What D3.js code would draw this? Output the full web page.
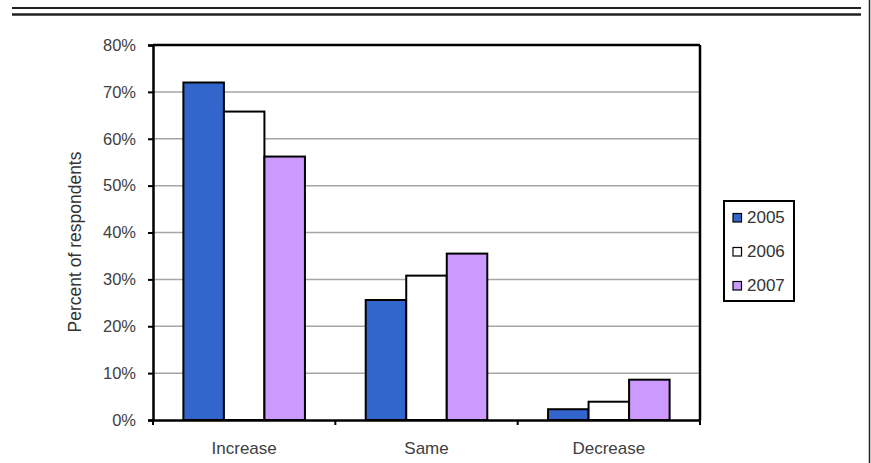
<!DOCTYPE html>
<html>
<head>
<meta charset="utf-8">
<script src="https://cdn.jsdelivr.net/npm/d3@7"></script>
<style>
  html, body { margin: 0; padding: 0; background: #fff; }
  svg { display: block; font-family: "Liberation Sans", Arial, sans-serif; }
</style>
</head>
<body>
<svg id="chart" width="871" height="463"></svg>
<script>
const categories = ["Increase", "Same", "Decrease"];
const seriesNames = ["2005", "2006", "2007"];
const values2005 = [72, 25.6, 2.3];
const values2006 = [65.8, 30.8, 3.9];
const values2007 = [56.2, 35.5, 8.6];
const yTicks = [0, 10, 20, 30, 40, 50, 60, 70, 80];
const seriesColors = ["#3366cc", "#ffffff", "#cc99ff"];

const series = [values2005, values2006, values2007];

const svg = d3.select("#chart");
const plotLeft = 153, plotRight = 700, plotTop = 45, plotBottom = 420;

// decorative page lines
svg.append("line").attr("x1", 12).attr("x2", 861).attr("y1", 8).attr("y2", 8)
  .attr("stroke", "#222").attr("stroke-width", 2);
svg.append("line").attr("x1", 12).attr("x2", 861).attr("y1", 14.5).attr("y2", 14.5)
  .attr("stroke", "#222").attr("stroke-width", 2.5);
svg.append("line").attr("x1", 869.5).attr("x2", 869.5).attr("y1", 0).attr("y2", 463)
  .attr("stroke", "#222").attr("stroke-width", 1.5);

const x0 = d3.scaleBand().domain(categories).range([plotLeft, plotRight]).paddingInner(0).paddingOuter(0);
const x1 = d3.scaleBand().domain(seriesNames).range([0, x0.bandwidth()]).paddingInner(0).paddingOuter(0.75);
const y = d3.scaleLinear().domain([0, 80]).range([plotBottom, plotTop]);

// gridlines
svg.append("g").selectAll("line").data(yTicks.filter(t => t > 0 && t < 80)).join("line")
  .attr("x1", plotLeft).attr("x2", plotRight)
  .attr("y1", d => y(d)).attr("y2", d => y(d))
  .attr("stroke", "#a6a6a6").attr("stroke-width", 1.5);

// plot border top & right
svg.append("line").attr("x1", plotLeft).attr("x2", plotRight).attr("y1", plotTop).attr("y2", plotTop)
  .attr("stroke", "#000").attr("stroke-width", 2.5);
svg.append("line").attr("x1", plotRight).attr("x2", plotRight).attr("y1", plotTop).attr("y2", plotBottom)
  .attr("stroke", "#000").attr("stroke-width", 2.5);

// bars
const groups = svg.append("g").selectAll("g").data(categories).join("g")
  .attr("transform", d => `translate(${x0(d)},0)`);
groups.selectAll("rect")
  .data((c, ci) => seriesNames.map((s, si) => ({ s, si, v: series[si][ci] })))
  .join("rect")
  .attr("x", d => x1(d.s))
  .attr("width", x1.bandwidth())
  .attr("y", d => y(d.v))
  .attr("height", d => y(0) - y(d.v))
  .attr("fill", d => seriesColors[d.si])
  .attr("stroke", "#000").attr("stroke-width", 2);

// y axis
const yAxis = svg.append("g").attr("transform", `translate(${plotLeft},0)`)
  .call(d3.axisLeft(y).tickValues(yTicks).tickFormat(d => d + "%").tickSize(5).tickPadding(12));
yAxis.select(".domain").attr("stroke", "#000").attr("stroke-width", 2.5);
yAxis.selectAll(".tick line").attr("stroke", "#000").attr("stroke-width", 2);
yAxis.selectAll(".tick text").attr("fill", "#404040").style("font-size", "16.5px");

// x axis
const xAxis = svg.append("g").attr("transform", `translate(0,${plotBottom})`)
  .call(d3.axisBottom(x0).tickSize(0).tickPadding(22));
xAxis.select(".domain").attr("stroke", "#000").attr("stroke-width", 2.5);
xAxis.selectAll(".tick text").attr("fill", "#404040").style("font-size", "17px");
// category separator ticks
const sepPositions = categories.map(c => x0(c)).concat([plotRight]);
xAxis.selectAll(".sep").data(sepPositions).join("line").attr("class", "sep")
  .attr("x1", d => d).attr("x2", d => d).attr("y1", 0).attr("y2", 5)
  .attr("stroke", "#000").attr("stroke-width", 2);

// y title
svg.append("text")
  .attr("transform", `translate(81,242) rotate(-90)`)
  .attr("text-anchor", "middle")
  .attr("fill", "#333")
  .style("font-size", "17.5px")
  .text("Percent of respondents");

// legend
const lg = svg.append("g");
lg.append("rect").attr("x", 724).attr("y", 201).attr("width", 70).attr("height", 100)
  .attr("fill", "#fff").attr("stroke", "#000").attr("stroke-width", 2);
const items = lg.selectAll("g.item").data(seriesNames).join("g").attr("class", "item")
  .attr("transform", (d, i) => `translate(733,${213.5 + i * 34})`);
items.append("rect").attr("width", 8.5).attr("height", 8.5)
  .attr("fill", (d, i) => seriesColors[i]).attr("stroke", "#000").attr("stroke-width", 1.2);
items.append("text").attr("x", 14).attr("y", 9).attr("fill", "#333")
  .style("font-size", "17px").text(d => d);
</script>
</body>
</html>
